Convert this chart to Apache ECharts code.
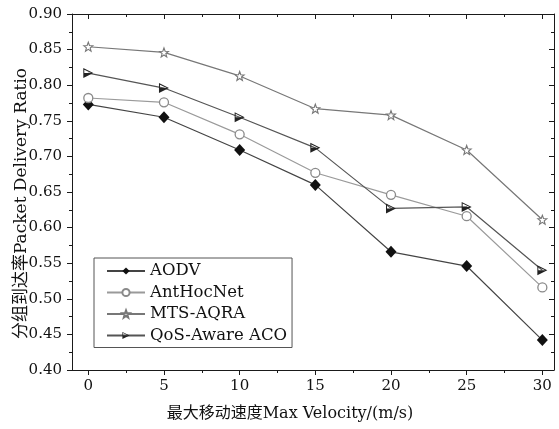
<!DOCTYPE html>
<html><head><meta charset="utf-8">
<script src="https://cdn.jsdelivr.net/npm/echarts@6/dist/echarts.min.js"></script>
<style>html,body{margin:0;padding:0;background:#fff}#c{width:559px;height:429px}</style>
</head><body><div id="c"></div>
<script>
const velocities = [0, 5, 10, 15, 20, 25, 30];
const aodv      = [0.773, 0.755, 0.709, 0.660, 0.566, 0.546, 0.442];
const antHocNet = [0.782, 0.776, 0.731, 0.677, 0.646, 0.616, 0.516];
const mtsAqra   = [0.854, 0.846, 0.813, 0.767, 0.758, 0.709, 0.611];
const qosAco    = [0.817, 0.796, 0.755, 0.712, 0.627, 0.629, 0.540];
const seriesNames = ['AODV', 'AntHocNet', 'MTS-AQRA', 'QoS-Aware ACO'];
const xMajorTicks = [0, 5, 10, 15, 20, 25, 30];
const xMinorTicks = [2.5, 7.5, 12.5, 17.5, 22.5, 27.5];
const xTitle = '最大移动速度Max Velocity/(m/s)';
const yTitle = '分组到达率Packet Delivery Ratio';

const FONT = "'DejaVu Serif', 'Noto Sans CJK SC', serif";
const AX = '#1a1a1a';
const XMIN = -1.077, XMAX = 30.77;
const STAR = 'path://M5 0 L6.234 3.301 L9.755 3.455 L6.997 5.649 L7.939 9.045 L5 7.1 L2.061 9.045 L3.003 5.649 L0.245 3.455 L3.766 3.301 Z';
const HALFTRI = 'path://M0 0 L10 5 L0 10 Z M1 1.6 L1 5 L7.8 5 Z';

function pairs(vals) { return velocities.map((v, i) => [v, vals[i]]); }

function xAx(pos, ticks, len, inside, main) {
  return {
    type: 'value', position: pos, offset: 0, min: XMIN, max: XMAX,
    axisLine: { show: main, onZero: false, lineStyle: { color: AX, width: 1 } },
    axisTick: { show: true, customValues: ticks, length: len, inside: inside, lineStyle: { color: AX, width: 1 } },
    axisLabel: main && pos === 'bottom' ? {
      show: true, customValues: xMajorTicks, margin: 9,
      fontFamily: FONT, fontSize: 15, color: '#111'
    } : { show: false },
    splitLine: { show: false },
    name: main && pos === 'bottom' ? xTitle : '',
    nameLocation: 'middle', nameGap: 36, nameMoveOverlap: false,
    nameTextStyle: { fontFamily: FONT, fontSize: 16, color: '#111', padding: [0, 46, 0, 0] }
  };
}

function yAx(pos, main) {
  return {
    type: 'value', position: pos, min: 0.4, max: 0.9, interval: 0.05,
    axisLine: { show: true, onZero: false, lineStyle: { color: AX, width: 1 } },
    axisTick: { show: true, length: 5, inside: !main, lineStyle: { color: AX, width: 1 } },
    minorTick: { show: true, splitNumber: 2, length: 3, lineStyle: { color: AX, width: 1 } },
    axisLabel: main ? { show: true, margin: 10, fontFamily: FONT, fontSize: 15, color: '#111',
      formatter: v => v.toFixed(2) } : { show: false },
    splitLine: { show: false }, minorSplitLine: { show: false },
    name: main ? yTitle : '',
    nameLocation: 'middle', nameGap: 42, nameMoveOverlap: false,
    nameTextStyle: { fontFamily: FONT, fontSize: 17, color: '#111', padding: [0, 23, 0, 0] }
  };
}

function ser(name, vals, opts) {
  return Object.assign({
    name: name, type: 'line', data: pairs(vals), xAxisIndex: 0, yAxisIndex: 0,
    showAllSymbol: true, emphasis: { disabled: true }
  }, opts);
}

const chart = echarts.init(document.getElementById('c'), null, { renderer: 'canvas' });
chart.setOption({
  animation: false,
  backgroundColor: '#fff',
  grid: { left: 72, right: 5, top: 14, bottom: 59, containLabel: false, outerBoundsMode: 'none' },
  xAxis: [
    xAx('bottom', xMajorTicks, 5, false, true),
    xAx('bottom', xMinorTicks, 3, false, false),
    xAx('top', xMajorTicks, 5, true, true),
    xAx('top', xMinorTicks, 3, true, false)
  ],
  yAxis: [yAx('left', true), yAx('right', false)],
  legend: {
    orient: 'vertical', left: 94, top: 258,
    itemWidth: 38, itemHeight: 9, itemGap: 3.5,
    padding: [4, 5, 3, 12],
    borderColor: '#555', borderWidth: 1, backgroundColor: '#fff',
    textStyle: { fontFamily: FONT, fontSize: 16.5, color: '#111', lineHeight: 18 },
    data: seriesNames
  },
  series: [
    ser(seriesNames[0], aodv, {
      symbol: 'diamond', symbolSize: [11, 12],
      lineStyle: { color: '#444', width: 1.2 },
      itemStyle: { color: '#111' }
    }),
    ser(seriesNames[1], antHocNet, {
      symbol: 'circle', symbolSize: 9,
      lineStyle: { color: '#9a9a9a', width: 1.2 },
      itemStyle: { color: '#fff', borderColor: '#8a8a8a', borderWidth: 1.3 }
    }),
    ser(seriesNames[2], mtsAqra, {
      symbol: STAR, symbolSize: 9,
      lineStyle: { color: '#777', width: 1.2 },
      itemStyle: { color: '#fff', borderColor: '#777', borderWidth: 1.1 }
    }),
    ser(seriesNames[3], qosAco, {
      symbol: HALFTRI, symbolSize: [10, 10],
      lineStyle: { color: '#555', width: 1.2 },
      itemStyle: { color: '#222' }
    })
  ]
});
</script></body></html>
